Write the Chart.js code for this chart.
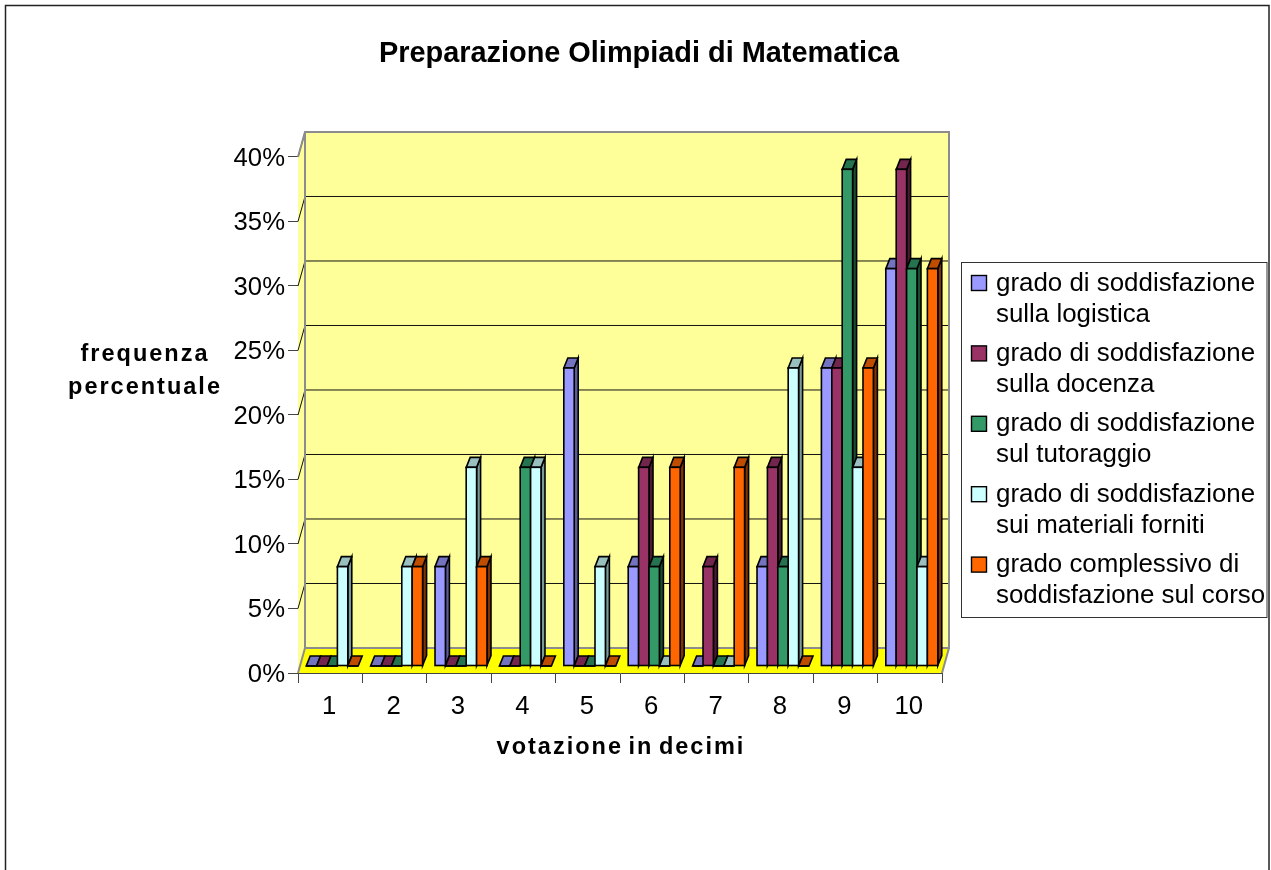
<!DOCTYPE html>
<html lang="it">
<head>
  <meta charset="UTF-8">
  <title>Preparazione Olimpiadi di Matematica</title>
  <script src="https://cdn.jsdelivr.net/npm/chart.js"></script>
  <style>
    html, body { margin: 0; padding: 0; background: #fff; overflow: hidden; }
    canvas { display: block; }
  </style>
</head>
<body>
  <canvas id="olimpiadiChart" width="1271" height="870"></canvas>

  <script>
    const categories = ['1', '2', '3', '4', '5', '6', '7', '8', '9', '10'];

    const logistica  = [0, 0, 7.7, 0, 23.1, 7.7, 0, 7.7, 23.1, 30.8];
    const docenza    = [0, 0, 0, 0, 0, 15.4, 7.7, 15.4, 23.1, 38.5];
    const tutoraggio = [0, 0, 0, 15.4, 0, 7.7, 0, 7.7, 38.5, 30.8];
    const materiali  = [7.7, 7.7, 15.4, 15.4, 7.7, 0, 0, 23.1, 15.4, 7.7];
    const corso      = [0, 7.7, 7.7, 0, 0, 15.4, 15.4, 0, 23.1, 30.8];

    const seriesValues = [logistica, docenza, tutoraggio, materiali, corso];
    const seriesLabels = [
      ['grado di soddisfazione', 'sulla logistica'],
      ['grado di soddisfazione', 'sulla docenza'],
      ['grado di soddisfazione', 'sul tutoraggio'],
      ['grado di soddisfazione', 'sui materiali forniti'],
      ['grado complessivo di', 'soddisfazione sul corso']
    ];

    const frontColors = ['#9999FF', '#993366', '#339966', '#CCFFFF', '#FF6600'];
    const topColors   = ['#7373BF', '#73264D', '#267350', '#99BFBF', '#BF4D00'];
    const sideColors  = ['#5C5C99', '#4D1A33', '#1A4D33', '#7A9999', '#803300'];

    const FONT = '"Liberation Sans", Arial, sans-serif';
    const WALL_DX = 7, WALL_DY = -25;    // front plane -> back wall
    const PLANE_DX = 2, PLANE_DY = -7;   // front plane -> bar fronts
    const BAR_DX = 4, BAR_DY = -10;      // bar depth
    const OUTLINE = 1.6;

    function poly(ctx, pts, fill, stroke, width) {
      ctx.beginPath();
      pts.forEach((p, i) => i ? ctx.lineTo(p[0], p[1]) : ctx.moveTo(p[0], p[1]));
      ctx.closePath();
      if (fill) { ctx.fillStyle = fill; ctx.fill(); }
      if (stroke) { ctx.strokeStyle = stroke; ctx.lineWidth = width; ctx.lineJoin = 'miter'; ctx.stroke(); }
    }

    // the 3D room behind the bars: side wall, back wall, floor
    function drawRoom(chart) {
      const { ctx, chartArea: a, scales } = chart;
      const dx = WALL_DX, dy = WALL_DY;
      ctx.save();
      poly(ctx, [[a.left, a.top], [a.left + dx, a.top + dy], [a.left + dx, a.bottom + dy], [a.left, a.bottom]], '#FFFF99');
      poly(ctx, [[a.left + dx, a.top + dy], [a.right + dx, a.top + dy], [a.right + dx, a.bottom + dy], [a.left + dx, a.bottom + dy]], '#FFFF99');

      ctx.strokeStyle = '#111';
      ctx.lineWidth = 1;
      scales.y.ticks.forEach(t => {
        const y = scales.y.getPixelForValue(t.value);
        if (t.value === 0) return;
        ctx.beginPath();
        ctx.moveTo(a.left, y);
        ctx.lineTo(a.left + dx, y + dy);
        if (t.value < scales.y.max) ctx.lineTo(a.right + dx, y + dy);
        ctx.stroke();
      });

      poly(ctx, [[a.left, a.bottom], [a.right, a.bottom], [a.right + dx, a.bottom + dy], [a.left + dx, a.bottom + dy]], '#FFFF00');

      ctx.strokeStyle = '#8C8C8C';
      ctx.lineWidth = 2;
      ctx.beginPath();
      ctx.moveTo(a.left, a.top);
      ctx.lineTo(a.left + dx, a.top + dy);
      ctx.lineTo(a.right + dx, a.top + dy);
      ctx.lineTo(a.right + dx, a.bottom + dy);
      ctx.lineTo(a.left + dx, a.bottom + dy);
      ctx.lineTo(a.left + dx, a.top + dy);
      ctx.moveTo(a.right + dx, a.bottom + dy);
      ctx.lineTo(a.right, a.bottom);
      ctx.moveTo(a.left + dx, a.bottom + dy);
      ctx.lineTo(a.left, a.bottom);
      ctx.stroke();
      ctx.restore();
    }

    // bars sit a little behind the front plane and get a side and a top face.
    // first series is painted first, so the next bar covers its side
    function drawBars(chart) {
      const { ctx } = chart;
      seriesValues.forEach((values, i) => {
        const meta = chart.getDatasetMeta(i);
        ctx.save();
        ctx.translate(PLANE_DX, PLANE_DY);
        meta.data.forEach(bar => {
          const l = bar.x - bar.width / 2, r = bar.x + bar.width / 2;
          if (bar.base > bar.y) {
            poly(ctx, [[r, bar.base], [r + BAR_DX, bar.base + BAR_DY], [r + BAR_DX, bar.y + BAR_DY], [r, bar.y]], sideColors[i], '#000', OUTLINE);
          }
          poly(ctx, [[l, bar.y], [r, bar.y], [r + BAR_DX, bar.y + BAR_DY], [l + BAR_DX, bar.y + BAR_DY]], topColors[i], '#000', OUTLINE);
        });
        meta.controller.draw();
        ctx.strokeStyle = '#000';
        ctx.lineWidth = OUTLINE;
        meta.data.forEach(bar => {
          ctx.strokeRect(bar.x - bar.width / 2, bar.y, bar.width, bar.base - bar.y);
        });
        ctx.restore();
      });
    }

    const room3dPlugin = {
      id: 'room3d',
      beforeDatasetsDraw(chart) {
        drawRoom(chart);
        drawBars(chart);
        return false;
      }
    };

    function spacedText(ctx, text, x, y) {
      ctx.letterSpacing = '2px';
      ctx.wordSpacing = '-3px';
      ctx.fillText(text, x, y);
      ctx.letterSpacing = '0px';
      ctx.wordSpacing = '0px';
    }

    const framePlugin = {
      id: 'frame',
      afterDraw(chart) {
        const { ctx } = chart;
        ctx.save();
        ctx.strokeStyle = '#222';
        ctx.lineWidth = 1.5;
        ctx.strokeRect(5.5, 5.5, 1263.5, 900);

        // axis titles
        ctx.fillStyle = '#000';
        ctx.font = 'bold 23.5px ' + FONT;
        ctx.textAlign = 'center';
        ctx.textBaseline = 'alphabetic';
        spacedText(ctx, 'frequenza', 145, 361);
        spacedText(ctx, 'percentuale', 145, 394);
        spacedText(ctx, 'votazione in decimi', 621, 754);

        // legend
        ctx.fillStyle = '#fff';
        ctx.fillRect(961.5, 262.5, 305.5, 355);
        ctx.strokeStyle = '#333';
        ctx.lineWidth = 1;
        ctx.strokeRect(961.5, 262.5, 305.5, 355);
        ctx.font = '25.9px ' + FONT;
        ctx.textAlign = 'left';
        seriesLabels.forEach((lines, i) => {
          const y0 = 290.5 + i * 70.4;
          ctx.fillStyle = frontColors[i];
          ctx.fillRect(971.5, y0 - 15, 15, 15);
          ctx.strokeStyle = '#000';
          ctx.lineWidth = 1.4;
          ctx.strokeRect(971.5, y0 - 15, 15, 15);
          ctx.fillStyle = '#000';
          lines.forEach((line, k) => ctx.fillText(line, 996, y0 + k * 31));
        });
        ctx.restore();
      }
    };

    const axisColor = '#444';

    new Chart(document.getElementById('olimpiadiChart'), {
      type: 'bar',
      data: {
        labels: categories,
        datasets: seriesValues.map((values, i) => ({
          label: seriesLabels[i].join(' '),
          data: values,
          backgroundColor: frontColors[i],
          borderWidth: 0,
          categoryPercentage: 0.807,
          barPercentage: 1
        }))
      },
      options: {
        responsive: false,
        animation: false,
        layout: { padding: { left: 14, right: 7, top: 37, bottom: 0 } },
        plugins: {
          legend: { display: false },
          tooltip: { enabled: false },
          title: {
            display: true,
            text: 'Preparazione Olimpiadi di Matematica',
            color: '#000',
            font: { family: FONT, size: 28.9, weight: 'bold', lineHeight: 1.2 },
            padding: { top: 0, bottom: 85.3 }
          }
        },
        scales: {
          x: {
            grid: { drawOnChartArea: false, tickLength: 10, color: axisColor, offset: true },
            border: { color: axisColor },
            ticks: { color: '#000', font: { family: FONT, size: 25.7 }, padding: 8, maxRotation: 0, labelOffset: -1 },
            afterFit: s => { s.height = 197; }
          },
          y: {
            min: 0,
            max: 40,
            grid: { drawOnChartArea: false, tickLength: 10, color: axisColor },
            border: { color: axisColor },
            ticks: { stepSize: 5, color: '#000', font: { family: FONT, size: 25.7 }, padding: 3, labelOffset: 1.5, callback: v => v + '%' },
            afterFit: s => { s.width = 284; }
          },
          // empty axis, keeps the room for the legend on the right
          legendRoom: {
            type: 'linear',
            position: 'right',
            display: true,
            grid: { display: false },
            border: { display: false },
            ticks: { display: false },
            afterFit: s => { s.width = 322; }
          }
        }
      },
      plugins: [room3dPlugin, framePlugin]
    });
  </script>
</body>
</html>
